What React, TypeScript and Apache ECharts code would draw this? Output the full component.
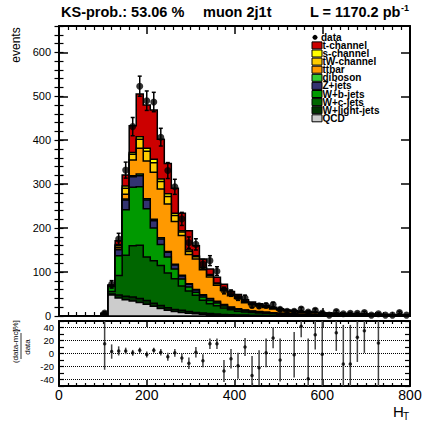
import React, { useEffect, useRef } from "react";
import * as echarts from "echarts";

const FONT = "'Liberation Sans', Arial, Helvetica, sans-serif";

// Histogram binning (HT): 16-wide bins, first filled bin starts at 96
const FIRST_EDGE = 96;
const BIN_W = 16;

// Stacked MC contributions per bin (bins 96-112 ... 784-800)
const qcd = [2, 48, 41, 37, 34, 31, 27, 22, 17, 13, 10, 8, 6, 5, 4, 3, 2.5, 2, 1.5, 1.2, 1, 0.8, 0.7, 0.6, 0.5, 0.4, 0.4, 0.3, 0.3, 0.3, 0.2, 0.2, 0.2, 0.2, 0.1, 0.1, 0.1, 0.1, 0.1, 0.1, 0.1, 0.1, 0.1, 0.1];
const wLight = [0.5, 2, 7, 8, 9, 9, 8, 7, 7, 6, 5, 5, 4, 3, 3, 2.5, 2, 1.5, 1.5, 1.3, 1, 0.9, 0.8, 0.7, 0.6, 0.5, 0.4, 0.4, 0.3, 0.3, 0.3, 0.2, 0.2, 0.2, 0.2, 0.2, 0.2, 0.1, 0.1, 0.1, 0.1, 0.1, 0.1, 0.1];
const wC = [1, 6, 44, 93, 117, 121, 99, 97, 91, 79, 70, 55, 47, 39, 29, 22.5, 19, 14.5, 11, 8.5, 7, 6, 5.2, 4.5, 3.8, 3.2, 2.7, 2.3, 2, 1.9, 1.7, 1.5, 1.3, 1.2, 1.1, 1, 0.9, 0.9, 0.8, 0.7, 0.7, 0.6, 0.6, 0.5];
const wB = [1.2, 11, 45, 104, 133, 133, 110, 74, 48, 36, 22, 16, 9, 7, 7, 7.5, 6, 4.5, 3.5, 3, 2.5, 2, 1.8, 1.5, 1.3, 1.1, 0.9, 0.8, 0.7, 0.6, 0.6, 0.5, 0.4, 0.4, 0.4, 0.3, 0.3, 0.3, 0.3, 0.3, 0.2, 0.2, 0.2, 0.2];
const zJets = [0.5, 1.5, 14, 22, 24, 25, 20, 17, 12, 11, 9, 7, 6, 5, 4.5, 3.5, 3, 2.5, 2, 2, 1.5, 1.2, 1.1, 1, 0.8, 0.7, 0.6, 0.5, 0.4, 0.4, 0.3, 0.3, 0.3, 0.2, 0.2, 0.2, 0.2, 0.2, 0.2, 0.1, 0.1, 0.1, 0.1, 0.1];
const diboson = [0.1, 0.3, 1, 2, 2, 4, 3, 3, 3, 2, 2, 2, 1.5, 1.5, 1, 1, 1, 1, 0.8, 0.7, 0.5, 0.5, 0.4, 0.4, 0.3, 0.3, 0.2, 0.2, 0.2, 0.2, 0.1, 0.1, 0.1, 0.1, 0.1, 0.1, 0.1, 0.1, 0.1, 0.1, 0.1, 0.1, 0, 0];
const ttbar = [0.2, 0.5, 4, 11, 36, 59, 86, 107, 111, 108, 97, 90, 66.5, 69.5, 56.5, 48.6, 36.5, 32, 25.7, 23.3, 16.5, 14.5, 12.6, 10.7, 8.8, 7.2, 5.9, 5, 4.3, 4.1, 3.7, 3.1, 2.9, 2.7, 2.5, 2.3, 2.1, 1.9, 1.8, 1.7, 1.5, 1.4, 1.3, 1.2];
const tW = [0.2, 0.3, 4, 14, 13, 20, 22, 22, 17, 17, 14, 8, 7, 5, 4, 4, 3.5, 3, 2.5, 2.5, 2, 1.8, 1.6, 1.4, 1.2, 1, 0.8, 0.7, 0.6, 0.6, 0.5, 0.4, 0.4, 0.3, 0.3, 0.3, 0.3, 0.2, 0.2, 0.2, 0.2, 0.2, 0.2, 0.2];
const sChannel = [0.1, 0.2, 3, 5, 4, 6, 7, 8, 6, 6, 5, 3, 3, 2, 2, 2, 1.5, 1.5, 1, 1, 0.8, 0.7, 0.6, 0.5, 0.4, 0.3, 0.3, 0.2, 0.2, 0.2, 0.2, 0.1, 0.1, 0.1, 0.1, 0.1, 0.1, 0.1, 0.1, 0.1, 0.1, 0.1, 0.1, 0.1];
const tChannel = [0.3, 0.8, 8, 25, 61, 97, 98, 112, 90, 69, 57, 40, 44, 23, 19, 12.5, 13, 9.5, 6.5, 5.5, 4.2, 3.6, 3.2, 2.7, 2.3, 1.8, 1.5, 1.3, 1.1, 1, 0.9, 0.8, 0.7, 0.6, 0.5, 0.5, 0.4, 0.4, 0.3, 0.3, 0.3, 0.2, 0.2, 0.2];

// Observed data counts
const dataCounts = [7, 72, 175, 332, 431, 523, 490, 487, 407, 331, 294, 221, 167, 163, 118, 126, 102, 58, 52, 42, 41, 24, 23, 24, 26, 15, 11, 11, 16, 9, 13, 7, 2, 10, 5, 6, 6, 8, 2, 5, 2, 2, 8, 2];

// Ratio panel (data-mc)/data in %, with error half-widths (null = off scale)
const ratioValues = [15, 3, 4, 4, 1, 5, -1.5, 5, 2, -5, 1, -7, -15, 2, -11, 15, 15, -27, -8, -19, 10, -34, -22, 1, 24, -10, null, -2, 42, -39, 29, -1, null, 32, -16, -16, 25, 35, null, 16, null, null, null, null];
const ratioErrors = [40, 11, 7, 5, 4.5, 4, 4.5, 4, 5, 6, 6, 7, 9, 8, 10, 8, 8, 17, 15, 20, 14, 30, 27, 22, 16, 33, null, 35, 17, 62, 23, 60, null, 28, 60, 60, 38, 34, null, 70, null, null, null, null];

const mainYTicks = { min: 0, max: 660, major: 100, minor: 20 };
const ratioYTicks = { min: -50, max: 50, step: 10 };
const ratioGridLines = [40, 20, 0, -20, -40];

const components = [
  { name: "QCD", color: "#cccccc", values: qcd },
  { name: "W+light-jets", color: "#003300", values: wLight },
  { name: "W+c-jets", color: "#006600", values: wC },
  { name: "W+b-jets", color: "#009900", values: wB },
  { name: "Z+jets", color: "#333371", values: zJets },
  { name: "diboson", color: "#33cc33", values: diboson },
  { name: "ttbar", color: "#ff9900", values: ttbar },
  { name: "tW-channel", color: "#ffcc00", values: tW },
  { name: "s-channel", color: "#ffff00", values: sChannel },
  { name: "t-channel", color: "#cc0000", values: tChannel },
];

export default function App() {
  const ref = useRef<HTMLDivElement>(null);
  useEffect(() => {
    if (!ref.current) return;
    const chart = echarts.init(ref.current, undefined, { renderer: "svg" });
    const nb = dataCounts.length;
    const edges = Array.from({ length: nb + 1 }, (_, i) => FIRST_EDGE + i * BIN_W);
    const centers = edges.slice(0, nb).map((e) => e + BIN_W / 2);

    // cumulative sums
    const cums: number[][] = [];
    let run = new Array(nb).fill(0);
    components.forEach((c) => {
      run = run.map((v, i) => v + c.values[i]);
      cums.push(run.slice());
    });

    const stackSeries: any[] = [];
    for (let k = components.length - 1; k >= 0; k--) {
      const cum = cums[k];
      const color = components[k].color;
      stackSeries.push({
        type: "custom",
        name: components[k].name,
        xAxisIndex: 0,
        yAxisIndex: 0,
        silent: true,
        z: 2,
        data: [[0, 0]],
        renderItem: (_p: any, api: any) => {
          const pts: number[][] = [];
          pts.push(api.coord([edges[0], 0]));
          cum.forEach((v, i) => {
            pts.push(api.coord([edges[i], v]));
            pts.push(api.coord([edges[i + 1], v]));
          });
          pts.push(api.coord([edges[nb], 0]));
          return {
            type: "polygon",
            shape: { points: pts },
            style: { fill: color, stroke: "#000", lineWidth: 1.5 },
          };
        },
      });
    }

    const dataErr = centers.map((c, i) => [c, dataCounts[i], Math.sqrt(dataCounts[i])]);
    const ratioPts: number[][] = [];
    centers.forEach((c, i) => {
      const r = ratioValues[i];
      const e = ratioErrors[i];
      if (r !== null && e !== null) ratioPts.push([c, r, e]);
    });

    const axLine = { show: true, onZero: false, lineStyle: { color: "#000", width: 2 } };
    const xAx = (grid: number, pos: string, labels: boolean, len: number) => ({
      type: "value",
      gridIndex: grid,
      position: pos,
      min: 0,
      max: 800,
      interval: 200,
      axisLine: axLine,
      axisTick: { show: true, inside: true, length: len, lineStyle: { color: "#000", width: 1.5 } },
      minorTick: { show: true, splitNumber: 10, length: len / 2, lineStyle: { color: "#000", width: 1.2 } },
      axisLabel: { show: labels, fontSize: 14, margin: 2, color: "#000", fontFamily: FONT },
      splitLine: { show: false },
      minorSplitLine: { show: false },
    });
    const mainY = (pos: string, labels: boolean) => ({
      type: "value",
      gridIndex: 0,
      position: pos,
      min: mainYTicks.min,
      max: mainYTicks.max,
      interval: mainYTicks.major,
      axisLine: axLine,
      axisTick: { show: true, inside: true, length: 9, lineStyle: { color: "#000", width: 1.5 } },
      axisLabel: { show: labels, fontSize: 11, margin: 8, color: "#000", fontFamily: FONT, showMaxLabel: false },
      splitLine: { show: false },
    });
    const mainYMinor = (pos: string) => ({
      type: "value",
      gridIndex: 0,
      position: pos,
      min: mainYTicks.min,
      max: mainYTicks.max,
      interval: mainYTicks.minor,
      axisLine: { show: false },
      axisTick: { show: true, inside: true, length: 4.5, lineStyle: { color: "#000", width: 1.2 } },
      axisLabel: { show: false },
      splitLine: { show: false },
    });
    const ratioY = (pos: string, labels: boolean) => ({
      type: "value",
      gridIndex: 1,
      position: pos,
      min: ratioYTicks.min,
      max: ratioYTicks.max,
      interval: ratioYTicks.step,
      axisLine: axLine,
      axisTick: { show: true, inside: true, length: 5, lineStyle: { color: "#000", width: 1.2 } },
      axisLabel: {
        show: labels,
        fontSize: 9.5,
        margin: 5,
        color: "#000",
        fontFamily: FONT,
        formatter: (v: number) => (v % 20 === 0 && Math.abs(v) <= 40 ? String(v) : ""),
      },
      splitLine: { show: false },
    });

    // Legend: markers + labels (tight ROOT-style spacing)
    const legendTop = 37.3;
    const legendStep = 8.1;
    const legendItems: any[] = [
      { type: "circle", shape: { cx: 315, cy: legendTop, r: 2.5 }, style: { fill: "#000" } },
      {
        type: "text",
        x: 321,
        y: legendTop,
        style: { text: "data", fontSize: 10, fontWeight: "bold", fontFamily: FONT, fill: "#000", verticalAlign: "middle" },
      },
    ];
    components
      .slice()
      .reverse()
      .forEach((c, i) => {
        const yc = legendTop + legendStep * (i + 1);
        legendItems.push({
          type: "rect",
          shape: { x: 312, y: yc - 3.5, width: 10, height: 7 },
          style: { fill: c.color, stroke: "#000", lineWidth: 1 },
        });
        legendItems.push({
          type: "text",
          x: 322.5,
          y: yc,
          style: { text: c.name, fontSize: 10, fontWeight: "bold", fontFamily: FONT, fill: "#000", verticalAlign: "middle" },
        });
      });

    const titleStyle = { fontSize: 14.5, fontWeight: "bold", fontFamily: FONT, fill: "#000", verticalAlign: "middle" };

    chart.setOption({
      animation: false,
      backgroundColor: "#fff",
      grid: [
        { left: 59, top: 26, width: 351, height: 290 },
        { left: 59, top: 321, width: 351, height: 65 },
      ],
      xAxis: [
        xAx(0, "bottom", false, 8),
        xAx(0, "top", false, 8),
        xAx(1, "bottom", true, 6),
        xAx(1, "top", false, 6),
      ],
      yAxis: [
        mainY("left", true),
        mainY("right", false),
        mainYMinor("left"),
        mainYMinor("right"),
        ratioY("left", true),
        ratioY("right", false),
      ],
      series: [
        ...stackSeries,
        {
          type: "custom",
          xAxisIndex: 0,
          yAxisIndex: 0,
          silent: true,
          z: 5,
          data: dataErr,
          renderItem: (_p: any, api: any) => {
            const x = api.value(0);
            const y = api.value(1);
            const e = api.value(2);
            const t = api.coord([x, y + e]);
            const b = api.coord([x, Math.max(0, y - e)]);
            const st = { stroke: "#000", lineWidth: 1.5 };
            return {
              type: "group",
              children: [
                { type: "line", shape: { x1: t[0], y1: t[1], x2: b[0], y2: b[1] }, style: st },
                { type: "line", shape: { x1: t[0] - 2, y1: t[1], x2: t[0] + 2, y2: t[1] }, style: st },
                { type: "line", shape: { x1: b[0] - 2, y1: b[1], x2: b[0] + 2, y2: b[1] }, style: st },
              ],
            };
          },
        },
        {
          type: "scatter",
          xAxisIndex: 0,
          yAxisIndex: 0,
          silent: true,
          z: 6,
          symbol: "circle",
          symbolSize: 7,
          itemStyle: { color: "#000" },
          data: centers.map((c, i) => [c, dataCounts[i]]),
        },
        {
          type: "custom",
          xAxisIndex: 2,
          yAxisIndex: 4,
          silent: true,
          z: 5,
          data: ratioPts,
          renderItem: (_p: any, api: any) => {
            const x = api.value(0);
            const y = api.value(1);
            const e = api.value(2);
            const hi = Math.min(ratioYTicks.max, y + e);
            const lo = Math.max(ratioYTicks.min, y - e);
            const t = api.coord([x, hi]);
            const b = api.coord([x, lo]);
            return {
              type: "line",
              shape: { x1: t[0], y1: t[1], x2: b[0], y2: b[1] },
              style: { stroke: "#444", lineWidth: 1.5 },
            };
          },
        },
        {
          type: "scatter",
          xAxisIndex: 2,
          yAxisIndex: 4,
          silent: true,
          z: 6,
          symbol: "circle",
          symbolSize: 3.5,
          itemStyle: { color: "#000" },
          data: ratioPts.map((p) => [p[0], p[1]]),
          markLine: {
            silent: true,
            symbol: ["none", "none"],
            label: { show: false },
            lineStyle: { color: "#000", type: "dotted", width: 1 },
            data: ratioGridLines.map((v) => ({ yAxis: v })),
          },
        },
      ],
      graphic: [
        { type: "text", x: 61, y: 12, style: { ...titleStyle, text: "KS-prob.: 53.06 %" } },
        { type: "text", x: 203, y: 12, style: { ...titleStyle, text: "muon 2j1t" } },
        { type: "text", x: 310, y: 12, style: { ...titleStyle, text: "L = 1170.2 pb" } },
        { type: "text", x: 401, y: 8, style: { ...titleStyle, fontSize: 9, text: "-1" } },
        {
          type: "text",
          x: 16,
          y: 45,
          rotation: Math.PI / 2,
          style: { text: "events", fontSize: 12, fontFamily: FONT, fill: "#000", align: "center", verticalAlign: "middle" },
        },
        {
          type: "text",
          x: 15,
          y: 346,
          rotation: Math.PI / 2,
          style: { text: "(data-mc)", fontSize: 8, fontFamily: FONT, fill: "#000", align: "center", verticalAlign: "middle" },
        },
        { type: "line", shape: { x1: 21, y1: 333, x2: 21, y2: 359 }, style: { stroke: "#000", lineWidth: 0.8 } },
        {
          type: "text",
          x: 27,
          y: 347,
          rotation: Math.PI / 2,
          style: { text: "data", fontSize: 8, fontFamily: FONT, fill: "#000", align: "center", verticalAlign: "middle" },
        },
        {
          type: "text",
          x: 15,
          y: 326,
          rotation: Math.PI / 2,
          style: { text: "[%]", fontSize: 8, fontFamily: FONT, fill: "#000", align: "center", verticalAlign: "middle" },
        },
        { type: "text", x: 393, y: 411, style: { text: "H", fontSize: 15, fontFamily: FONT, fill: "#000", verticalAlign: "middle" } },
        { type: "text", x: 403, y: 416, style: { text: "T", fontSize: 10, fontFamily: FONT, fill: "#000", verticalAlign: "middle" } },
        ...legendItems,
      ],
    });
    return () => chart.dispose();
  }, []);
  return (
    <div
      ref={ref}
      style={{ position: "fixed", left: 0, top: 0, width: 429, height: 422, background: "#fff" }}
    />
  );
}
